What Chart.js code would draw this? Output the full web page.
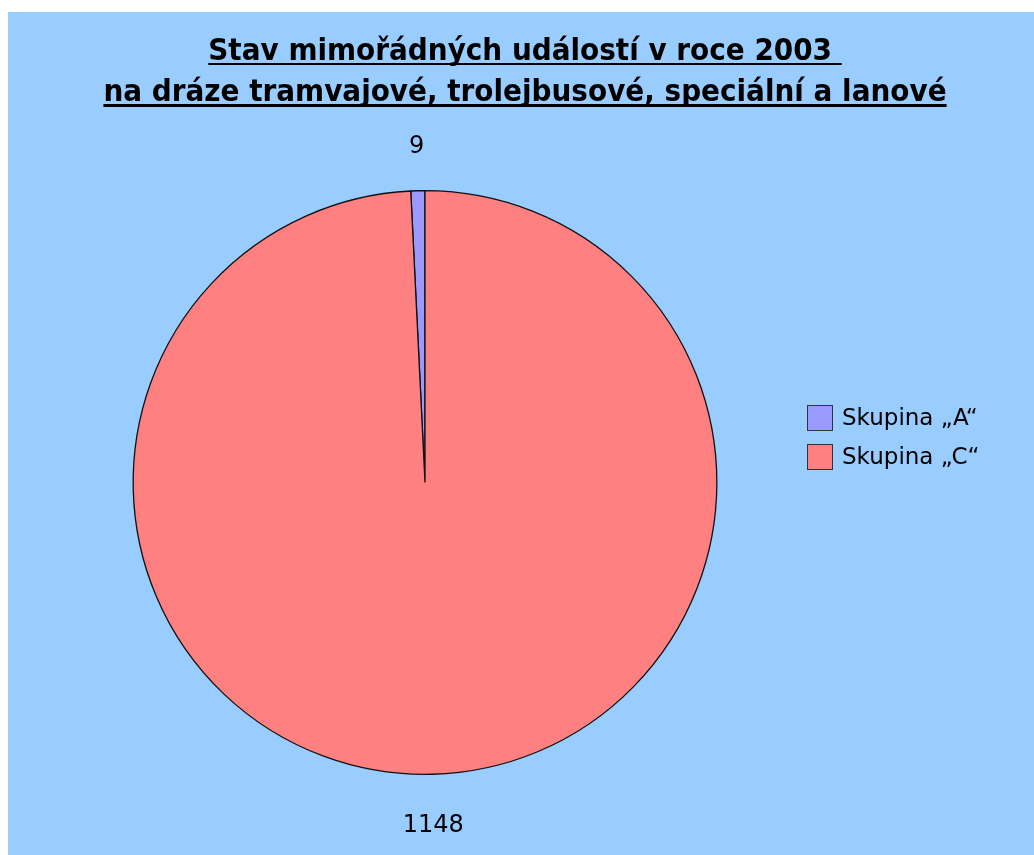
<!DOCTYPE html>
<html>
<head>
<meta charset="utf-8">
<script src="https://cdn.jsdelivr.net/npm/chart.js@4"></script>
<style>
    html, body { margin: 0; padding: 0; background: #ffffff; }
    #wrap { position: absolute; left: 8px; top: 12px; width: 1026px; height: 843px; background: #99ccff; }
</style>
</head>
<body>
<div id="wrap"><canvas id="chart-pie" width="1026" height="843"></canvas></div>
<script>
const groups = ['Skupina „A“', 'Skupina „C“'];
const counts = [9, 1148];
const sliceColors = ['#9999ff', '#ff8080'];
const titleLines = ['Stav mimořádných událostí v roce 2003 ', 'na dráze tramvajové, trolejbusové, speciální a lanové'];

const total = counts.reduce((a, b) => a + b, 0);

// underlined two-line heading
const headingPlugin = {
    id: 'heading',
    afterDraw(chart) {
        const ctx = chart.ctx;
        ctx.save();
        ctx.font = 'bold 31px "DejaVu Sans Condensed", "DejaVu Sans", sans-serif';
        ctx.fillStyle = '#000000';
        ctx.textAlign = 'center';
        ctx.textBaseline = 'alphabetic';
        const cx = 517;
        const baselines = [48, 89];
        const underlineWidth = [2, 3];
        titleLines.forEach(function(line, i) {
            ctx.fillText(line, cx, baselines[i]);
            const w = ctx.measureText(line).width;
            ctx.fillRect(cx - w / 2, baselines[i] + 3, w, underlineWidth[i]);
        });
        ctx.restore();
    }
};

// value next to each slice
const sliceValuesPlugin = {
    id: 'sliceValues',
    afterDatasetsDraw(chart) {
        const ctx = chart.ctx;
        const arcs = chart.getDatasetMeta(0).data;
        ctx.save();
        ctx.font = '24px "DejaVu Sans", sans-serif';
        ctx.fillStyle = '#000000';
        ctx.textAlign = 'center';
        ctx.textBaseline = 'middle';
        arcs.forEach(function(arc, i) {
            const p = arc.getProps(['x', 'y', 'startAngle', 'endAngle', 'outerRadius'], true);
            const mid = (p.startAngle + p.endAngle) / 2;
            const r = p.outerRadius + 48;
            ctx.fillText(String(counts[i]), p.x + Math.cos(mid) * r, p.y + Math.sin(mid) * r + 4);
        });
        ctx.restore();
    }
};

// key on the right side
const keyPlugin = {
    id: 'key',
    afterDraw(chart) {
        const ctx = chart.ctx;
        ctx.save();
        ctx.font = '23px "DejaVu Sans", sans-serif';
        ctx.textAlign = 'left';
        ctx.textBaseline = 'middle';
        groups.forEach(function(name, i) {
            const y = 393 + i * 39;
            ctx.fillStyle = sliceColors[i];
            ctx.fillRect(799, y, 26, 26);
            ctx.strokeStyle = '#333333';
            ctx.lineWidth = 1;
            ctx.strokeRect(799.5, y + 0.5, 25, 25);
            ctx.fillStyle = '#000000';
            ctx.fillText(name, 834, y + 14);
        });
        ctx.restore();
    }
};

const ctxPie = document.querySelector('#chart-pie').getContext('2d');
const chartPie = new Chart(ctxPie, {
    type: 'pie',
    data: {
        labels: groups,
        datasets: [{
            data: counts,
            backgroundColor: sliceColors,
            borderColor: '#111111',
            borderWidth: 1.3
        }]
    },
    options: {
        responsive: false,
        animation: false,
        // first slice ends exactly at twelve o'clock
        rotation: -360 * counts[0] / total,
        layout: {
            padding: { left: 124, right: 316, top: 178, bottom: 80 }
        },
        plugins: {
            legend: { display: false },
            title: { display: false },
            tooltip: { enabled: false }
        }
    },
    plugins: [headingPlugin, sliceValuesPlugin, keyPlugin]
});
</script>
</body>
</html>
